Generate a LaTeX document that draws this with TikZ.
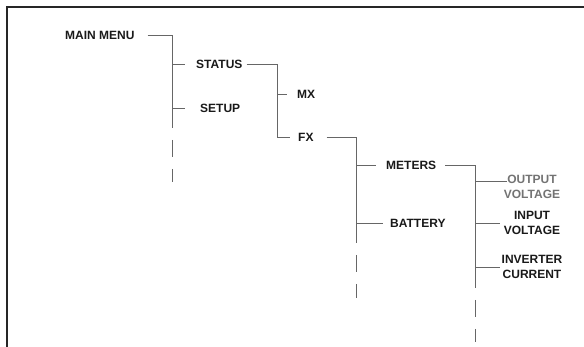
\documentclass[tikz,border=0pt]{standalone}
\usepackage{fontspec}
\setmainfont{Liberation Sans}
\begin{document}
\begin{tikzpicture}[x=1pt,y=-1pt,
  lbl/.style={font=\bfseries\fontsize{12}{14.5}\selectfont, inner sep=0pt, text=black!90},
  glbl/.style={lbl, text=black!55},
  conn/.style={draw=black!60, line width=0.9pt},
  tail/.style={conn, dash pattern=on 17pt off 12pt},
  frame/.style={draw=black!85, line width=2pt}]
\useasboundingbox (0,0) rectangle (584,347);
% frame (top and left edges)
\draw[frame] (584,7.5) -- (7,7.5) -- (7,347);
% labels
\node[lbl, anchor=west] (mm) at (65,35) {MAIN MENU};
\node[lbl, anchor=west] (status) at (196,64) {STATUS};
\node[lbl, anchor=west] (setup) at (200,108) {SETUP};
\node[lbl, anchor=west] (mx) at (297,94) {MX};
\node[lbl, anchor=west] (fx) at (298,137.5) {FX};
\node[lbl, anchor=west] (meters) at (386,165) {METERS};
\node[lbl, anchor=west] (battery) at (390,223) {BATTERY};
\node[glbl, align=center] (outv) at (532,187) {OUTPUT\\VOLTAGE};
\node[lbl, align=center] (inv) at (532,223) {INPUT\\VOLTAGE};
\node[lbl, align=center] (invc) at (532,267) {INVERTER\\CURRENT};
% trunk coordinates
\coordinate (t1) at (172,35);   \coordinate (t1s) at (172,123); \coordinate (t1e) at (172,182);
\coordinate (t2) at (277,64);
\coordinate (t3) at (356,137.5); \coordinate (t3s) at (356,239); \coordinate (t3e) at (356,298);
\coordinate (t4) at (475,165);  \coordinate (t4s) at (475,283); \coordinate (t4e) at (475,342);
% level 1
\draw[conn] ([xshift=13pt]mm.east) -- (t1) -- (t1s);
\draw[tail] ([yshift=12pt]t1s) -- (t1e);
\draw[conn] (t1 |- status) -- ([xshift=-11pt]status.west);
\draw[conn] (t1 |- setup) -- ([xshift=-15pt]setup.west);
% level 2
\draw[conn] ([xshift=4pt]status.east) -- (t2) -- (t2 |- fx) -- ([xshift=-8pt]fx.west);
\draw[conn] (t2 |- mx) -- ([xshift=-10pt]mx.west);
% level 3
\draw[conn] ([xshift=13pt]fx.east) -- (t3) -- (t3s);
\draw[tail] ([yshift=13pt]t3s) -- (t3e);
\draw[conn] (t3 |- meters) -- ([xshift=-10pt]meters.west);
\draw[conn] (t3 |- battery) -- ([xshift=-7pt]battery.west);
% level 4
\draw[conn] ([xshift=9pt]meters.east) -- (t4) -- (t4s);
\draw[tail] ([yshift=12pt]t4s) -- (t4e);
\draw[conn] (t4 |- 0,181) -- (507,181);
\draw[conn] (t4 |- inv) -- ([xshift=-4pt]inv.west);
\draw[conn] (t4 |- invc) -- (500,267);
\end{tikzpicture}
\end{document}
